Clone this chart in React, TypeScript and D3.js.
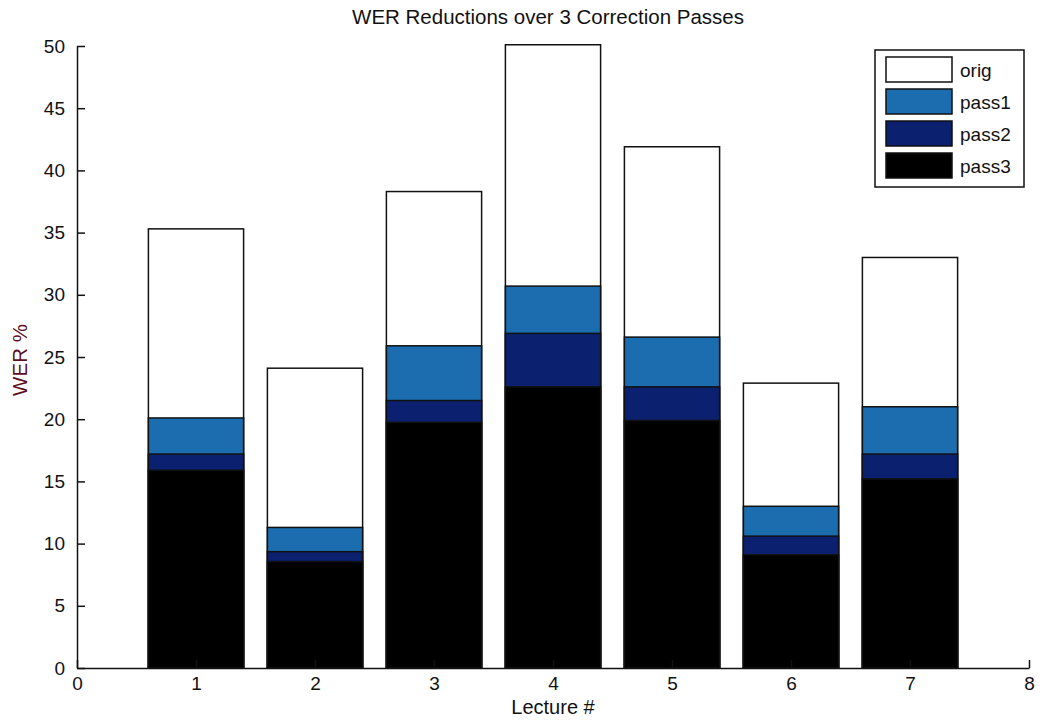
import { useEffect, useRef } from "react";
import * as d3 from "d3";

// chart values
const lectures = [1, 2, 3, 4, 5, 6, 7];
const seriesNames = ["orig", "pass1", "pass2", "pass3"];
const origWER = [35.3, 24.1, 38.3, 50.1, 41.9, 22.9, 33.0];
const pass1WER = [20.1, 11.3, 25.9, 30.7, 26.6, 13.0, 21.0];
const pass2WER = [17.2, 9.35, 21.5, 26.9, 22.6, 10.6, 17.2];
const pass3WER = [15.9, 8.55, 19.75, 22.6, 19.9, 9.1, 15.2];
const xTicks = [0, 1, 2, 3, 4, 5, 6, 7, 8];
const yTicks = [0, 5, 10, 15, 20, 25, 30, 35, 40, 45, 50];

const COLORS = ["#ffffff", "#1b6db0", "#0b2170", "#000000"];
const FONT = "'Liberation Sans', Arial, sans-serif";

const width = 1042;
const height = 725;
const MARGIN = { top: 46, right: 13, bottom: 57, left: 77 };
const BAR_WIDTH = 0.8;

export default function App() {
  const svgRef = useRef<SVGSVGElement>(null);

  useEffect(() => {
    const svg = d3.select(svgRef.current);
    svg.selectAll("*").remove();

    const x = d3.scaleLinear().domain([0, 8]).range([MARGIN.left, width - MARGIN.right]);
    const y = d3.scaleLinear().domain([0, 50]).range([height - MARGIN.bottom, MARGIN.top]);

    svg.append("rect").attr("width", width).attr("height", height).attr("fill", "#fff");

    // bars drawn back to front: orig, pass1, pass2, pass3
    const allSeries = [origWER, pass1WER, pass2WER, pass3WER];
    allSeries.forEach((vals, si) => {
      svg
        .append("g")
        .selectAll("rect")
        .data(vals)
        .join("rect")
        .attr("x", (_, i) => x(lectures[i] - BAR_WIDTH / 2))
        .attr("width", x(BAR_WIDTH) - x(0))
        .attr("y", (d) => y(d))
        .attr("height", (d) => y(0) - y(d))
        .attr("fill", COLORS[si])
        .attr("stroke", "#111")
        .attr("stroke-width", 1.5);
    });

    // axes
    const xAxis = svg
      .append("g")
      .attr("transform", `translate(0,${y(0)})`)
      .call(d3.axisBottom(x).tickValues(xTicks).tickSize(-8).tickPadding(9).tickSizeOuter(0));
    const yAxis = svg
      .append("g")
      .attr("transform", `translate(${x(0)},0)`)
      .call(d3.axisLeft(y).tickValues(yTicks).tickSize(-8).tickPadding(12).tickSizeOuter(0));

    [xAxis, yAxis].forEach((ax) => {
      ax.select(".domain").attr("stroke", "#111").attr("stroke-width", 1.5);
      ax.selectAll(".tick line").attr("stroke", "#111").attr("stroke-width", 1.5);
      ax.selectAll(".tick text")
        .attr("fill", "#111")
        .style("font-family", FONT)
        .style("font-size", "19px");
    });
    xAxis.selectAll(".tick text").attr("dy", "0.71em");

    // titles
    svg
      .append("text")
      .attr("x", 548)
      .attr("y", 24)
      .attr("text-anchor", "middle")
      .style("font-family", FONT)
      .style("font-size", "20.5px")
      .attr("fill", "#111")
      .text("WER Reductions over 3 Correction Passes");
    svg
      .append("text")
      .attr("x", (x(0) + x(8)) / 2)
      .attr("y", 714)
      .attr("text-anchor", "middle")
      .style("font-family", FONT)
      .style("font-size", "20px")
      .attr("fill", "#111")
      .text("Lecture #");
    svg
      .append("text")
      .attr("transform", `translate(27,${(y(0) + y(50)) / 2 + 3}) rotate(-90)`)
      .attr("text-anchor", "middle")
      .style("font-family", FONT)
      .style("font-size", "20.5px")
      .attr("fill", "#5a1020")
      .text("WER %");

    // legend
    const legend = svg.append("g").attr("transform", "translate(875,50)");
    legend
      .append("rect")
      .attr("width", 149)
      .attr("height", 137)
      .attr("fill", "#fff")
      .attr("stroke", "#111")
      .attr("stroke-width", 1.5);
    seriesNames.forEach((name, i) => {
      const row = legend.append("g").attr("transform", `translate(11,${7 + i * 32})`);
      row
        .append("rect")
        .attr("width", 66)
        .attr("height", 25)
        .attr("fill", COLORS[i])
        .attr("stroke", "#111")
        .attr("stroke-width", 1.5);
      row
        .append("text")
        .attr("x", 74)
        .attr("y", 20)
        .style("font-family", FONT)
        .style("font-size", "19px")
        .attr("fill", "#111")
        .text(name);
    });
  }, []);

  return (
    <svg
      ref={svgRef}
      width={width}
      height={height}
      style={{ position: "absolute", left: 0, top: 0 }}
    />
  );
}
